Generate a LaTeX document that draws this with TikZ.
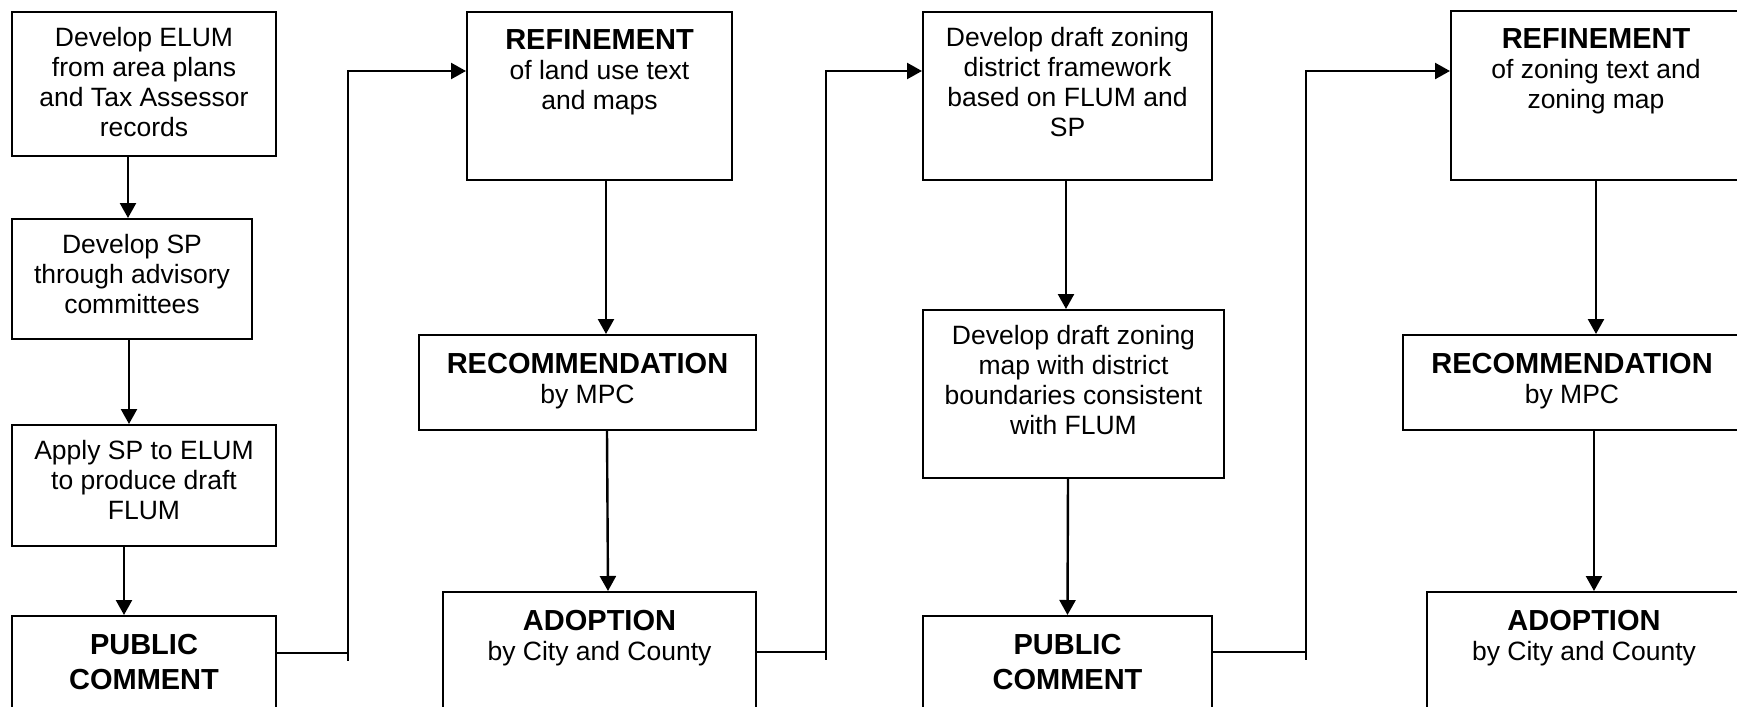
\documentclass[tikz,border=0pt]{standalone}
\usepackage{fontspec}
\setmainfont{Liberation Sans}
\usetikzlibrary{arrows.meta}

\newcommand{\boxtext}[3]{\parbox[t][#2][t]{#1}{\centering\vspace*{7.5pt}#3}}
\newcommand{\headline}[1]{\vspace*{1.5pt}{\bfseries\fontsize{14.5}{17.5}\selectfont #1\par}}

\tikzset{%
  >={Triangle[width=8pt,length=7.5pt]},
  % Specifications for style of nodes:
     base/.style = {rectangle, draw=black, line width=1pt, inner sep=0pt,
                    anchor=north west, font=\fontsize{13.25}{15}\selectfont},
  % Specifications for style of connectors:
     flow/.style = {line width=1.2pt},
}

\begin{document}
\begin{tikzpicture}[x=0.5pt, y=-0.5pt]

\useasboundingbox (0,0) rectangle (1737,707);
\clip (0,0) rectangle (1737,707);
\fill[white] (0,0) rectangle (1737,707);

% land use column
\node (elum)  [base] at (11,11)   {\boxtext{132pt}{72pt}{Develop ELUM\\ from area plans\\ and Tax Assessor\\ records}};

\node (sp)    [base] at (11,218)  {\boxtext{120pt}{60pt}{Develop SP\\ through advisory\\ committees}};

\node (apply) [base] at (11,424)  {\boxtext{132pt}{60.5pt}{Apply SP to ELUM\\ to produce draft\\ FLUM}};

\node (pubA)  [base] at (11,615)  {\boxtext{132pt}{57.5pt}{\headline{PUBLIC\\ COMMENT}}};

\node (refA)  [base] at (466,11)  {\boxtext{132.5pt}{84pt}{\headline{REFINEMENT}of land use text\\ and maps}};

\node (recA)  [base] at (418,334) {\boxtext{168.5pt}{47.5pt}{\headline{RECOMMENDATION}by MPC}};

\node (adoA)  [base] at (442,591) {\boxtext{156.5pt}{69.5pt}{\headline{ADOPTION}by City and County}};

% zoning column
\node (zonA)  [base] at (922,11)  {\boxtext{144.5pt}{84pt}{Develop draft zoning\\ district framework\\ based on FLUM and\\ SP}};

\node (zonB)  [base] at (922,309) {\boxtext{150.5pt}{84pt}{Develop draft zoning\\ map with district\\ boundaries consistent\\ with FLUM}};

\node (pubB)  [base] at (922,615) {\boxtext{144.5pt}{57.5pt}{\headline{PUBLIC\\ COMMENT}}};

\node (refB)  [base] at (1450,10) {\boxtext{145pt}{84.5pt}{\headline{REFINEMENT}of zoning text and\\ zoning map}};

\node (recB)  [base] at (1402,334) {\boxtext{169pt}{47.5pt}{\headline{RECOMMENDATION}by MPC}};

\node (adoB)  [base] at (1426,591) {\boxtext{157pt}{69.5pt}{\headline{ADOPTION}by City and County}};

\draw[flow,->] ([xshift=-8pt]elum.south)    -- ([xshift=-2pt]sp.north);
\draw[flow,->] ([xshift=-1.5pt]sp.south)    -- ([xshift=-7.5pt]apply.north);
\draw[flow,->] ([xshift=-10pt]apply.south)  -- ([xshift=-10pt]pubA.north);
\draw[flow,->] ([xshift=3.25pt]refA.south)  -- ([xshift=9.25pt]recA.north);
\draw[flow,->] ([xshift=9.75pt]recA.south)  -- ([xshift=4.25pt]adoA.north);
\draw[flow,->] ([xshift=-0.75pt]zonA.south) -- ([xshift=-3.75pt]zonB.north);
\draw[flow,->] ([xshift=-2.75pt]zonB.south) -- (pubB.north);
\draw[flow,->] (refB.south)                 -- ([xshift=12pt]recB.north);
\draw[flow,->] ([xshift=11pt]recB.south)    -- ([xshift=5pt]adoB.north);

% links between the stages
\coordinate (turnA) at (348,653);
\coordinate (turnB) at (826,652);
\coordinate (turnC) at (1306,652);

\draw[flow]     (turnA -| pubA.east) -- (turnA) -- ++(0,8);
\draw[flow,->]  (turnA) |- ([yshift=12.5pt]refA.west);
\draw[flow]     (turnB -| adoA.east) -- (turnB) -- ++(0,8);
\draw[flow,->]  (turnB) |- ([yshift=12.5pt]zonA.west);
\draw[flow]     (turnC -| pubB.east) -- (turnC) -- ++(0,8);
\draw[flow,->]  (turnC) |- ([yshift=12.25pt]refB.west);
\end{tikzpicture}
\end{document}
